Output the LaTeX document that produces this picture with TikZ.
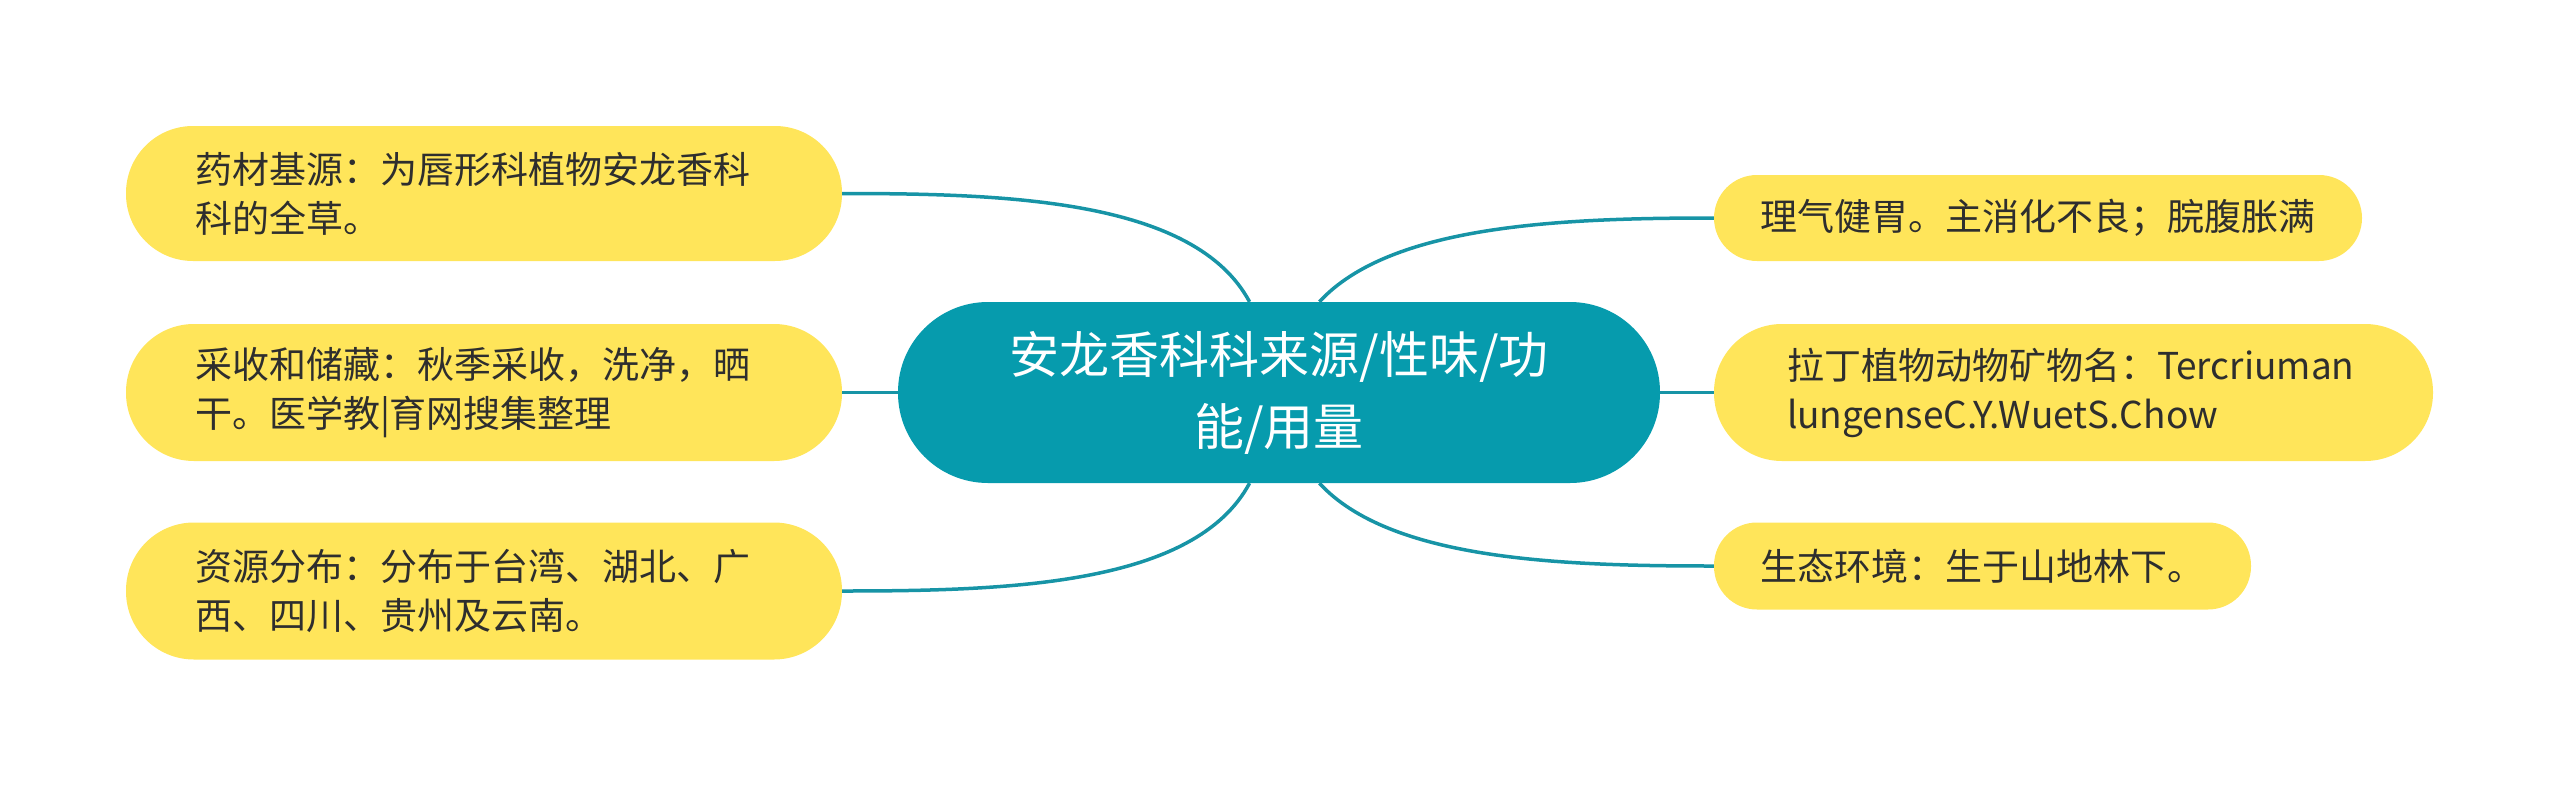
\documentclass[tikz,border=0pt]{standalone}
\usepackage{fontspec}
\newfontfamily\cjk{Noto Sans CJK SC}
\definecolor{leafY}{HTML}{FFE55A}
\definecolor{hubT}{HTML}{069BAD}
\definecolor{lineT}{HTML}{1794A6}
\definecolor{txtD}{HTML}{2E2E2E}
\tikzset{
  leaf/.style={fill=leafY, text=txtD, inner ysep=0pt, font=\cjk\fontsize{37}{49}\selectfont},
  hub/.style={fill=hubT, text=white, inner ysep=0pt, align=center, font=\cjk\fontsize{50}{72}\selectfont},
  link/.style={draw=lineT, line width=3.5pt}
}
\begin{document}
\begin{tikzpicture}[x=1pt,y=-1pt]
\useasboundingbox (0,0) rectangle (2560,785);
\node[hub, rounded corners=90pt, minimum width=762pt, minimum height=181pt] (c) at (1279,392.5)
  {安龙香科科来源/性味/功\\能/用量};
\node[leaf, rounded corners=67pt, minimum height=135pt, text width=578pt, inner xsep=69pt, align=left] (l1) at (484,193.5)
  {药材基源：为唇形科植物安龙香科\\科的全草。};
\node[leaf, rounded corners=68pt, minimum height=137pt, text width=578pt, inner xsep=69pt, align=left] (l2) at (484,392.5)
  {采收和储藏：秋季采收，洗净，晒\\干。医学教|育网搜集整理};
\node[leaf, rounded corners=68pt, minimum height=137pt, text width=578pt, inner xsep=69pt, align=left] (l3) at (484,591)
  {资源分布：分布于台湾、湖北、广\\西、四川、贵州及云南。};
\node[leaf, rounded corners=43pt, minimum height=86pt, minimum width=648pt, inner xsep=0pt, align=center] (r1) at (2038,218)
  {理气健胃。主消化不良；脘腹胀满};
\node[leaf, rounded corners=68pt, minimum height=137pt, text width=573pt, inner xsep=73pt, align=left] (r2) at (2073.5,392.5)
  {拉丁植物动物矿物名：Tercriuman\\lungenseC.Y.WuetS.Chow};
\node[leaf, rounded corners=43pt, minimum height=87pt, minimum width=537pt, inner xsep=0pt, align=center] (r3) at (1982.5,566)
  {生态环境：生于山地林下。};
\draw[link] (c.108) .. controls (1195,200) and (1010,193.5) .. (l1.east);
\draw[link] (c.west) -- (l2.east);
\draw[link] (c.252) .. controls (1195,585) and (1010,591) .. (l3.east);
\draw[link] (c.66) .. controls (1390,225) and (1560,218) .. (r1.west);
\draw[link] (c.east) -- (r2.west);
\draw[link] (c.294) .. controls (1390,560) and (1560,566) .. (r3.west);
\end{tikzpicture}
\end{document}
